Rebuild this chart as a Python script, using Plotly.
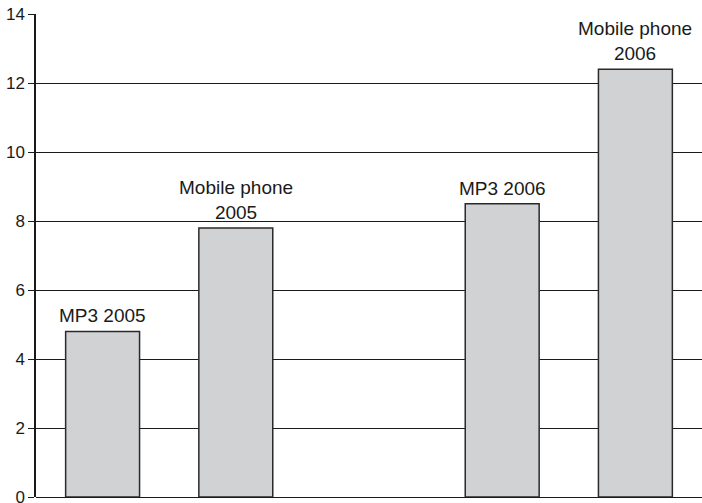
import plotly.graph_objects as go

categories = ["MP3 2005", "Mobile phone 2005", "MP3 2006", "Mobile phone 2006"]
labels = ["MP3 2005", "Mobile phone<br>2005", "MP3 2006", "Mobile phone<br>2006"]
values = [4.8, 7.8, 8.5, 12.4]
axis_order = ["MP3 2005", "Mobile phone 2005", "gap", "MP3 2006", "Mobile phone 2006"]
y_ticks = [0, 2, 4, 6, 8, 10, 12, 14]

font_family = "Liberation Sans, Arial, sans-serif"

fig = go.Figure()
fig.add_trace(go.Bar(
    x=categories,
    y=values,
    width=0.555,
    marker=dict(color="#d1d2d4", line=dict(color="#2a2a2a", width=1.5)),
    hoverinfo="skip",
))

for c, v, t in zip(categories, values, labels):
    fig.add_annotation(x=c, y=v, text=t, showarrow=False, yanchor="bottom",
                       yshift=3, font=dict(family=font_family, size=19, color="#1a1a1a"))

fig.update_layout(
    width=702, height=503,
    margin=dict(l=36, r=0, t=14, b=6),
    paper_bgcolor="white", plot_bgcolor="white",
    showlegend=False,
    font=dict(family=font_family, size=17, color="#1a1a1a"),
)
fig.update_xaxes(
    type="category", categoryorder="array", categoryarray=axis_order,
    range=[-0.5, 4.5], showticklabels=False, showgrid=False, zeroline=False,
    showline=False, ticks="", automargin=False,
)
fig.update_yaxes(
    range=[0, 14], tickvals=y_ticks, showgrid=True, gridcolor="#1a1a1a", gridwidth=1,
    zeroline=True, zerolinecolor="#1a1a1a", zerolinewidth=1,
    showline=True, linecolor="#1a1a1a", linewidth=1.5,
    ticks="outside", ticklen=6, tickcolor="#1a1a1a", tickwidth=1,
    ticklabeloverflow="allow", automargin=False,
    tickfont=dict(family=font_family, size=17, color="#1a1a1a"),
)

fig.write_html("out.html", config={"displayModeBar": False},
               post_script="document.body.style.margin='0';")
